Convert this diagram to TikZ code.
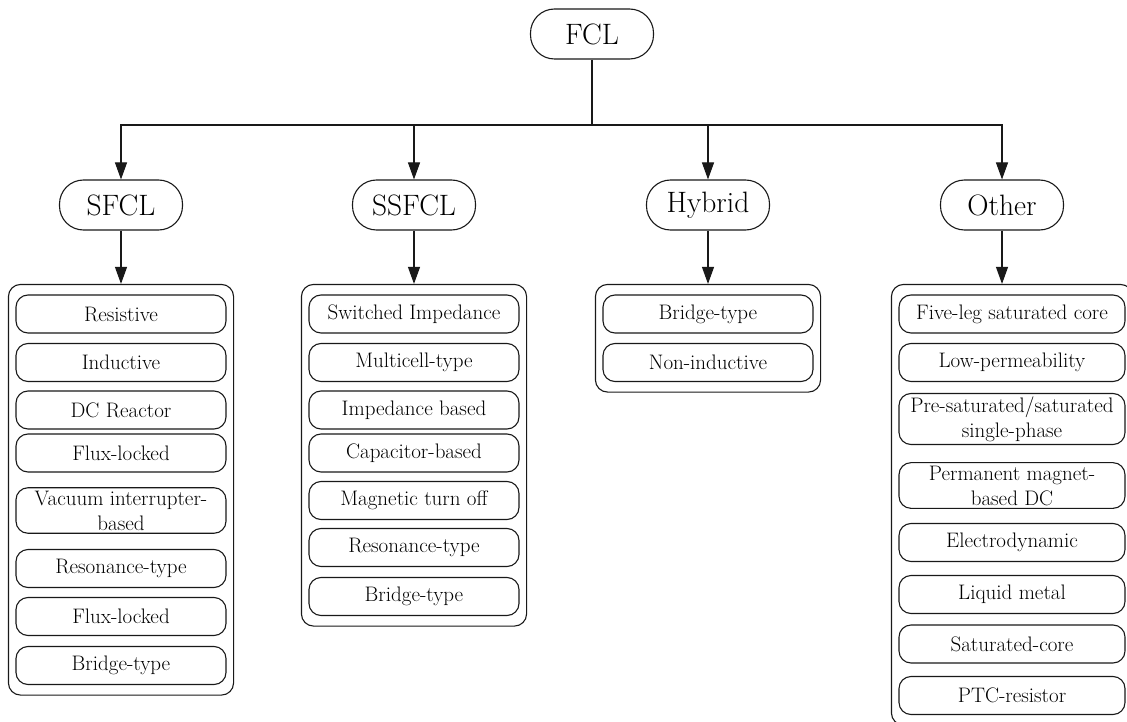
\documentclass[tikz,border=0pt]{standalone}
\usetikzlibrary{arrows.meta, positioning, fit}

\begin{document}
\begin{tikzpicture}[x=1pt,y=-1pt,>={Triangle[length=17pt,width=12pt]},
        every node/.style={font=\fontsize{21}{25}\selectfont},
        cat/.style={draw=black!90,line width=1.1pt,rounded corners=24pt,minimum width=123pt,
          minimum height=50pt,inner sep=0pt,font=\fontsize{29.5}{34}\selectfont},
        item/.style={draw=black!90,line width=1.1pt,rounded corners=12pt,minimum height=38pt,
          minimum width=#1,inner xsep=1pt,inner ysep=3pt,align=center},
        item/.default=210pt,
        group/.style={draw=black!90,line width=1.1pt,rounded corners=12pt,inner xsep=7pt,inner ysep=10pt},
        link/.style={draw=black!90,line width=1.1pt}]

      \clip (0,0) rectangle (1127,722);

      \node[cat] (FCL)    at (592,34)  {FCL};
      \node[cat] (SFCL)   at (121,205) {SFCL};
      \node[cat] (SSFCL)  at (414,205) {SSFCL};
      \node[cat] (Hybrid) at (708,205) {Hybrid};
      \node[cat] (Other)  at (1002,205) {Other};
      \coordinate (bus) at (592,125);

      % SFCL
      \node[item] (s_1) at (121,314)   {Resistive};
      \node[item] (s_2) at (121,362.5) {Inductive};
      \node[item] (s_3) at (121,410)   {DC Reactor};
      \node[item] (s_4) at (121,453)   {Flux-locked};
      \node[item] (s_5) at (121,510.5) {Vacuum interrupter-\\based};
      \node[item] (s_6) at (121,568.5) {Resonance-type};
      \node[item] (s_7) at (121,616.5) {Flux-locked};
      \node[item] (s_8) at (121,665.5) {Bridge-type};
      \node[group,fit=(s_1)(s_8)] (SFCLbox) {};

      % SSFCL
      \node[item] (ss_1) at (414,314)   {Switched Impedance};
      \node[item] (ss_2) at (414,362.5) {Multicell-type};
      \node[item] (ss_3) at (414,410)   {Impedance based};
      \node[item] (ss_4) at (414,453)   {Capacitor-based};
      \node[item] (ss_5) at (414,500.5) {Magnetic turn off};
      \node[item] (ss_6) at (414,547.5) {Resonance-type};
      \node[item] (ss_7) at (414,596.5) {Bridge-type};
      \node[group,fit=(ss_1)(ss_7)] (SSFCLbox) {};

      % Hybrid
      \node[item] (h_1) at (708,314)   {Bridge-type};
      \node[item] (h_2) at (708,362.5) {Non-inductive};
      \node[group,fit=(h_1)(h_2)] (Hybridbox) {};

      % Other
      \node[item=226pt] (o_1) at (1012,314)   {Five-leg saturated core};
      \node[item=226pt] (o_2) at (1012,362.5) {Low-permeability};
      \node[item=226pt] (o_3) at (1012,419)   {Pre-saturated/saturated\\single-phase};
      \node[item=226pt] (o_4) at (1012,485.5) {Permanent magnet-\\based DC};
      \node[item=226pt] (o_5) at (1012,542.5) {Electrodynamic};
      \node[item=226pt] (o_6) at (1012,594.5) {Liquid metal};
      \node[item=226pt] (o_7) at (1012,644)   {Saturated-core};
      \node[item=226pt] (o_8) at (1012,695.5) {PTC-resistor};
      \node[group,fit=(o_1)(o_8)] (Otherbox) {};

      \draw[link] (FCL) -- (bus);
      \draw[link,->] (bus) -| (SFCL);
      \draw[link,->] (bus) -| (SSFCL);
      \draw[link,->] (bus) -| (Hybrid);
      \draw[link,->] (bus) -| (Other);

      \draw[link,->] (SFCL) -- (SFCL |- SFCLbox.north);
      \draw[link,->] (SSFCL) -- (SSFCL |- SSFCLbox.north);
      \draw[link,->] (Hybrid) -- (Hybrid |- Hybridbox.north);
      \draw[link,->] (Other) -- (Other |- Otherbox.north);
    \end{tikzpicture}
\end{document}
